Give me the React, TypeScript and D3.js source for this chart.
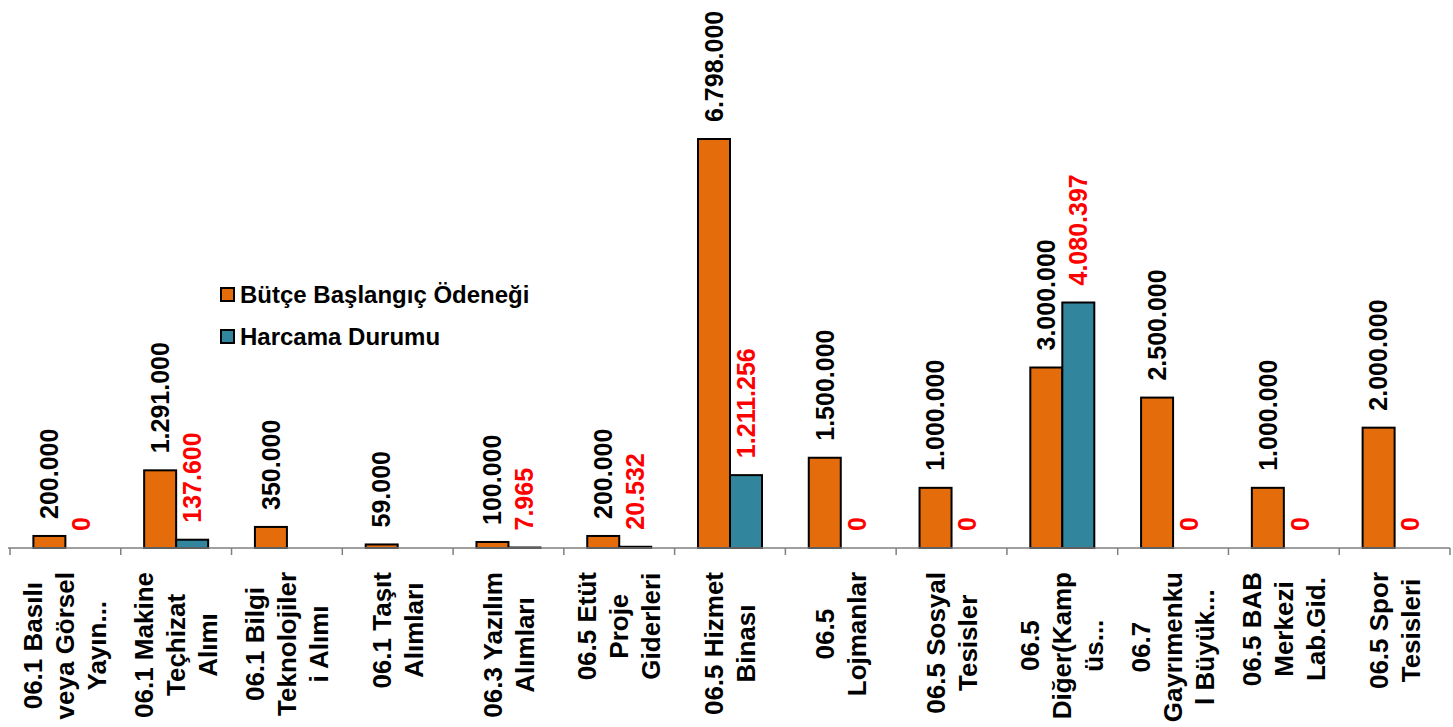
import React from "react";
import * as d3 from "d3";

const categories: string[][] = [
  ["06.1 Basılı", "veya Görsel", "Yayın..."],
  ["06.1 Makine", "Teçhizat", "Alımı"],
  ["06.1 Bilgi", "Teknolojiler", "i Alımı"],
  ["06.1 Taşıt", "Alımları"],
  ["06.3 Yazılım", "Alımları"],
  ["06.5 Etüt", "Proje", "Giderleri"],
  ["06.5 Hizmet", "Binası"],
  ["06.5", "Lojmanlar"],
  ["06.5 Sosyal", "Tesisler"],
  ["06.5", "Diğer(Kamp", "üs..."],
  ["06.7", "Gayrımenku", "l Büyük..."],
  ["06.5 BAB", "Merkezi", "Lab.Gid."],
  ["06.5 Spor", "Tesisleri"],
];

const budget: number[] = [200000, 1291000, 350000, 59000, 100000, 200000, 6798000, 1500000, 1000000, 3000000, 2500000, 1000000, 2000000];
const spending: (number | null)[] = [0, 137600, null, null, 7965, 20532, 1211256, 0, 0, 4080397, 0, 0, 0];

const seriesNames = ["Bütçe Başlangıç Ödeneği", "Harcama Durumu"];
const colors = ["#E46C0A", "#31859C"];

const W = 1453;
const H = 727;
const FONT = "'Liberation Sans', Arial, Helvetica, sans-serif";

const fmt = (v: number) => d3.format(",")(v).replace(/,/g, ".");

let ctx: CanvasRenderingContext2D | null = null;
function measure(t: string, size: number) {
  if (!ctx) ctx = document.createElement("canvas").getContext("2d");
  if (!ctx) return t.length * size * 0.55;
  ctx.font = `bold ${size}px ${FONT}`;
  return ctx.measureText(t).width;
}

export default function App() {
  const x0 = d3.scaleBand<number>().domain(d3.range(categories.length)).range([10, 1450]).paddingInner(0).paddingOuter(0);
  const y = d3.scaleLinear().domain([0, 6798000]).range([548, 139]);
  const barW = 32;
  const baseY = y(0);
  const catSize = 26;
  const valSize = 25;
  const lineH = 32;

  return (
    <svg width={W} height={H} style={{ position: "absolute", left: 0, top: 0, background: "#fff" }} fontFamily={FONT}>
      <rect x={0} y={0} width={W} height={H} fill="#fff" />
      {/* bars */}
      {categories.map((_, i) => {
        const cx = (x0(i) as number) + x0.bandwidth() / 2;
        const b = budget[i];
        const s = spending[i];
        return (
          <g key={i}>
            <rect x={cx - barW} y={y(b)} width={barW} height={baseY - y(b)} fill={colors[0]} stroke="#000" strokeWidth={2} />
            {s !== null && s > 0 && (
              <rect x={cx} y={y(s)} width={barW} height={baseY - y(s)} fill={colors[1]} stroke="#000" strokeWidth={2} />
            )}
          </g>
        );
      })}
      {/* axis */}
      <line x1={8} x2={1450} y1={baseY} y2={baseY} stroke="#7f7f7f" strokeWidth={1.5} />
      {d3.range(categories.length + 1).map((i) => {
        const xx = 10 + i * x0.step();
        return <line key={i} x1={xx} x2={xx} y1={baseY} y2={baseY + 7} stroke="#7f7f7f" strokeWidth={1.5} />;
      })}
      {/* value labels */}
      {categories.map((_, i) => {
        const cx = (x0(i) as number) + x0.bandwidth() / 2;
        const b = budget[i];
        const s = spending[i];
        const bx = cx - barW / 2;
        const sx = cx + barW / 2;
        return (
          <g key={"v" + i} fontWeight="bold" fontSize={valSize}>
            <text transform={`translate(${bx},${y(b) - 17}) rotate(-90)`} dy="0.35em" fill="#000">
              {fmt(b)}
            </text>
            {s !== null && (
              <text transform={`translate(${sx},${y(s) - 17}) rotate(-90)`} dy="0.35em" fill="#FF0000">
                {fmt(s)}
              </text>
            )}
          </g>
        );
      })}
      {/* category labels */}
      {categories.map((lines, i) => {
        const cx = (x0(i) as number) + x0.bandwidth() / 2;
        const maxLen = Math.max(...lines.map((l) => measure(l, catSize)));
        const midY = 572 + maxLen / 2;
        return (
          <g key={"c" + i} fontWeight="bold" fontSize={catSize} fill="#000">
            {lines.map((l, k) => {
              const lx = cx + (k - (lines.length - 1) / 2) * lineH;
              return (
                <text key={k} transform={`translate(${lx},${midY}) rotate(-90)`} textAnchor="middle" dy="0.35em">
                  {l}
                </text>
              );
            })}
          </g>
        );
      })}
      {/* legend */}
      {seriesNames.map((n, i) => (
        <g key={"l" + i}>
          <rect x={221} y={288 + i * 42} width={13} height={13} fill={colors[i]} stroke="#000" strokeWidth={2} />
          <text x={240} y={303 + i * 42} fontWeight="bold" fontSize={24} fill="#000">
            {n}
          </text>
        </g>
      ))}
    </svg>
  );
}
